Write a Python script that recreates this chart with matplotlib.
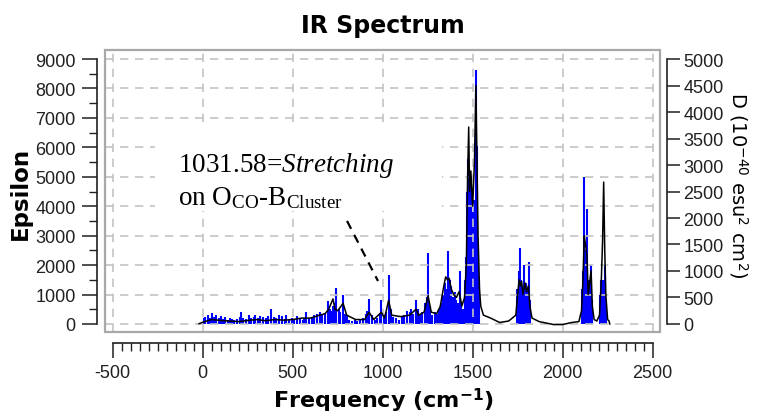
import numpy as np
import matplotlib
matplotlib.use('Agg')
import matplotlib.pyplot as plt
from matplotlib.ticker import MultipleLocator
from matplotlib.patches import Rectangle

plt.rcParams['mathtext.fontset'] = 'custom'
plt.rcParams['mathtext.rm'] = 'Liberation Serif'
plt.rcParams['mathtext.it'] = 'Liberation Serif:italic'
plt.rcParams['mathtext.bf'] = 'DejaVu Sans:bold'
plt.rcParams['axes.unicode_minus'] = False

# stick spectrum (blue), intensity D in 10^-40 esu^2 cm^2
stick_freq = [5, 15, 28, 40, 52, 63, 75, 88, 100, 112, 125, 138, 150, 162, 175, 190,
              205, 211, 225, 240, 255, 270, 285, 293, 305, 320, 335, 350, 365, 381, 395,
              410, 425, 440, 455, 465, 480, 495, 510, 525, 540, 555, 565, 576, 590, 605,
              620, 635, 650, 665, 680, 696, 705, 715, 724, 735, 743, 755, 765, 780, 790,
              800, 815, 830, 845, 860, 875, 890, 905, 915, 924, 940, 955, 970, 985, 993,
              1005, 1020, 1033, 1045, 1060, 1075, 1090, 1105, 1120, 1135, 1150, 1156, 1170,
              1185, 1195, 1210, 1220, 1235, 1245, 1252, 1262, 1275, 1290, 1300, 1312, 1325,
              1335, 1345, 1355, 1363, 1372, 1380, 1390, 1400, 1410, 1420, 1428, 1437, 1445,
              1455, 1462, 1470, 1475, 1480, 1485, 1490, 1495, 1500, 1505, 1510, 1515, 1519,
              1524, 1530, 1535, 1745, 1755, 1763, 1770, 1778, 1787, 1795, 1803, 1811, 1820,
              2105, 2113, 2118, 2125, 2135, 2145, 2152, 2159, 2165, 2205, 2215, 2222, 2228,
              2233, 2240]
stick_D = [111, 139, 167, 122, 211, 139, 167, 111, 144, 100, 128, 83, 111, 94, 67, 89,
           139, 233, 111, 100, 167, 111, 139, 167, 122, 144, 128, 111, 156, 283, 139,
           111, 167, 144, 100, 167, 83, 111, 94, 144, 111, 83, 122, 233, 111, 139,
           167, 194, 233, 167, 211, 439, 278, 250, 333, 389, 672, 278, 222, 556, 194,
           167, 83, 56, 83, 56, 83, 111, 194, 250, 472, 167, 83, 111, 194, 456,
           167, 222, 922, 278, 139, 111, 83, 139, 167, 250, 222, 283, 194,
           456, 278, 167, 222, 389, 500, 1339, 333, 167, 222, 194, 278, 389,
           556, 778, 667, 1372, 833, 722, 500, 611, 444, 389, 1006, 333, 278,
           833, 1261, 2500, 3111, 2722, 1944, 2700, 1667, 2111, 1389, 2333, 1667, 4789,
           3367, 1417, 833, 667, 1000, 1433, 833, 722, 1111, 778, 667, 1178, 444,
           667, 1006, 2778, 1389, 2172, 833, 556, 1111, 444, 556, 833, 833, 606,
           1111, 333]

# broadened spectrum (black), Epsilon
curve_freq = [-20, 0, 50, 100, 150, 200, 250, 300, 350, 400, 450, 500, 550, 600, 650, 680,
              700, 724, 735, 750, 780, 800, 850, 900, 924, 950, 993, 1010, 1033, 1050, 1100,
              1150, 1185, 1200, 1230, 1252, 1270, 1300, 1320, 1340, 1350, 1360, 1370, 1380,
              1395, 1410, 1425, 1440, 1455, 1465, 1472, 1478, 1483, 1490, 1500, 1510, 1518,
              1523, 1530, 1538, 1545, 1560, 1600, 1650, 1700, 1740, 1750, 1758, 1765, 1772,
              1780, 1790, 1800, 1810, 1818, 1830, 1870, 1950, 2000, 2050, 2090, 2105, 2113,
              2120, 2127, 2135, 2142, 2150, 2158, 2165, 2175, 2190, 2205, 2215, 2222, 2228,
              2234, 2240, 2250, 2258, 2262]
curve_eps = [10, 60, 150, 120, 100, 80, 120, 150, 110, 150, 130, 150, 200, 200, 300, 350,
             500, 850, 500, 450, 700, 300, 150, 150, 400, 150, 400, 200, 800, 300, 250,
             300, 500, 300, 400, 960, 400, 350, 600, 1300, 1600, 1500, 1550, 1200,
             1000, 900, 1100, 610, 900, 2000, 5000, 6690, 4500, 5200, 4000, 5500, 8100,
             6000, 3000, 1200, 600, 300, 200, 50, 100, 300, 1000, 1500, 1300, 1450,
             1000, 1400, 1100, 1300, 600, 200, 80, -20, -20, 50, 80, 450, 1500,
             2990, 2700, 2340, 1000, 1400, 1800, 600, 150, 100, 300, 1500, 2830, 4820,
             2500, 1000, 150, 100, 0]

x_ticks = [-500, 0, 500, 1000, 1500, 2000, 2500]
eps_ticks = [0, 1000, 2000, 3000, 4000, 5000, 6000, 7000, 8000, 9000]
d_ticks = [0, 500, 1000, 1500, 2000, 2500, 3000, 3500, 4000, 4500, 5000]

# annotation pointer
note_start = (802, 3500)
note_end = (974, 1460)

fig = plt.figure(figsize=(7.63, 4.14), dpi=100)
ax = fig.add_axes([0.1376, 0.1957, 0.7274, 0.6818])
ax.set_xlim(-543, 2541)
ax.set_ylim(-272, 9317)
eps_to_d = 5000 / 9000

ax2 = ax.twinx()
ax2.set_ylim(-272 * eps_to_d, 9317 * eps_to_d)
ax2.set_position(ax.get_position())

# grid and frame
ax.set_xticks(x_ticks)
ax.set_yticks(eps_ticks)
ax.grid(True, color='#c4c4c4', linestyle=(0, (5, 4)), linewidth=1.2)
ax.set_axisbelow(True)
ax.add_patch(Rectangle((0, 0), 1, 1, transform=ax.transAxes, fill=False,
                       edgecolor='#a8a8a8', linewidth=1.6, clip_on=False, zorder=5))
# white box behind annotation
ax.add_patch(Rectangle((0.090, 0.43), 0.517, 0.30, transform=ax.transAxes,
                       facecolor='white', edgecolor='none', zorder=1))

ax2.vlines(stick_freq, 0, stick_D, color='#0000ff', linewidth=1.5, zorder=2)
ax.plot(curve_freq, curve_eps, color='black', linewidth=1.1, zorder=3)
ax.set_zorder(ax2.get_zorder() + 1)
ax.patch.set_visible(False)

# spines as offset axes
for s in ['top', 'right']:
    ax.spines[s].set_visible(False)
for s in ['top', 'left', 'bottom']:
    ax2.spines[s].set_visible(False)
ax.spines['left'].set_position(('outward', 6))
ax.spines['left'].set_bounds(0, 9000)
ax.spines['bottom'].set_position(('outward', 8))
ax.spines['bottom'].set_bounds(-500, 2500)
ax2.spines['right'].set_position(('outward', 5))
ax2.spines['right'].set_bounds(0, 5000)
for sp in [ax.spines['left'], ax.spines['bottom'], ax2.spines['right']]:
    sp.set_color('#202020')
    sp.set_linewidth(1.2)

ax.xaxis.set_minor_locator(MultipleLocator(50))
ax.yaxis.set_minor_locator(MultipleLocator(500))
ax2.set_yticks(d_ticks)
ax.tick_params(axis='both', which='major', length=11, width=1.1, color='#202020',
               labelsize=13, labelcolor='#202020', pad=4)
ax.tick_params(axis='both', which='minor', length=6, width=1.0, color='#202020')
ax2.tick_params(axis='y', which='major', length=9, width=1.1, color='#202020',
                labelsize=13, labelcolor='#202020', pad=3)
for lab in ax.get_xticklabels() + ax.get_yticklabels() + ax2.get_yticklabels():
    lab.set_fontfamily('Liberation Sans')

# annotation
ax.text(0.1315, 0.570, r'1031.58=$\mathit{Stretching}$', transform=ax.transAxes,
        family='Liberation Serif', fontsize=19.5, va='baseline', ha='left', zorder=6)
ax.text(0.1315, 0.453, r'on O$_{\mathrm{CO}}$-B$_{\mathrm{Cluster}}$', transform=ax.transAxes,
        family='Liberation Serif', fontsize=19.5, va='baseline', ha='left', zorder=6)
ax.plot([note_start[0], note_end[0]], [note_start[1], note_end[1]], color='black',
        linestyle=(0, (4, 3)), linewidth=1.6, zorder=6)

# labels
fig.text(0.502, 1 - 33 / 414, 'IR Spectrum', ha='center', va='baseline',
         fontsize=17, fontweight='bold', family='DejaVu Sans')
fig.text(0.502, 1 - 400 / 414, r'Frequency (cm$^{\mathbf{-1}}$)', ha='center', va='center',
         fontsize=16, fontweight='bold', family='DejaVu Sans')
fig.text(20 / 763, 1 - 193 / 414, 'Epsilon', ha='center', va='center', rotation=90,
         fontsize=16.5, fontweight='bold', family='DejaVu Sans')
fig.text(738 / 763, 1 - 185 / 414, r'D (10$^{\mathregular{-40}}$ esu$^{\mathregular{2}}$ cm$^{\mathregular{2}}$)',
         ha='center', va='center', rotation=270, fontsize=14, family='DejaVu Sans')

fig.savefig('out.png', dpi=100)
